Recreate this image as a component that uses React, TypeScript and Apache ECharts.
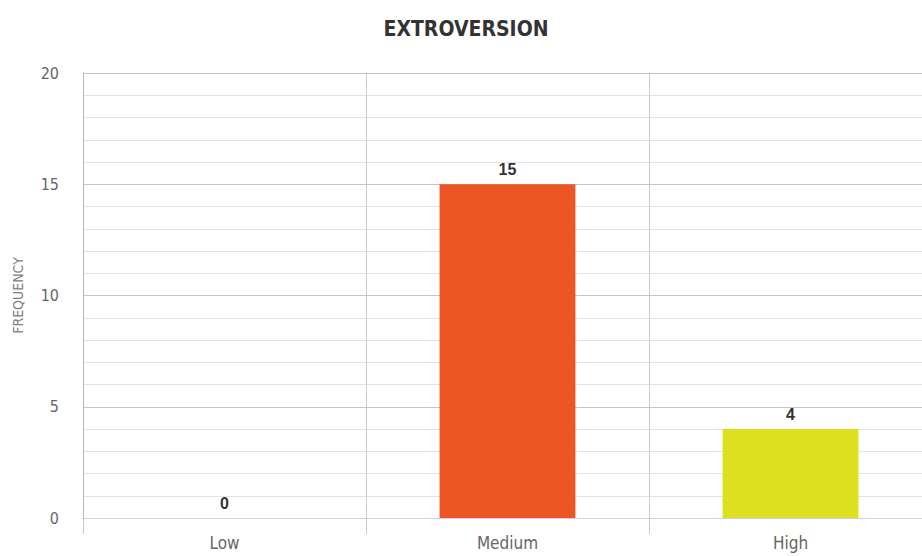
import React, { useEffect, useRef } from "react";
import * as echarts from "echarts";

const categories = ["Low", "Medium", "High"];
const frequencies = [0, 15, 4];
const barColors = ["#4a7fc1", "#ec5524", "#dce01e"];
const chartTitle = "EXTROVERSION";
const yAxisName = "FREQUENCY";

const NARROW = "'DejaVu Sans Condensed', 'Liberation Sans', sans-serif";

export default function App() {
  const ref = useRef<HTMLDivElement>(null);
  useEffect(() => {
    if (!ref.current) return;
    const chart = echarts.init(ref.current, undefined, { renderer: "svg" });
    chart.setOption({
      animation: false,
      backgroundColor: "#ffffff",
      title: {
        text: chartTitle,
        left: "center",
        top: 13,
        textStyle: { fontFamily: NARROW, fontWeight: "bold", fontSize: 21, color: "#333333" },
      },
      grid: { left: 83, right: 0, top: 73, bottom: 38, containLabel: false },
      xAxis: {
        type: "category",
        data: categories,
        boundaryGap: true,
        axisLine: { show: true, lineStyle: { color: "#c3d3e8", width: 1 } },
        axisTick: { show: true, length: 16, lineStyle: { color: "#c8c8c8" } },
        splitLine: { show: true, lineStyle: { color: "#cccccc", width: 1 } },
        axisLabel: { fontFamily: NARROW, fontSize: 17, color: "#666666", margin: 16 },
      },
      yAxis: {
        type: "value",
        min: 0,
        max: 20,
        interval: 5,
        name: yAxisName,
        nameLocation: "middle",
        nameGap: 58,
        nameTextStyle: { fontFamily: NARROW, fontSize: 14, color: "#808080" },
        axisLine: { show: true, lineStyle: { color: "#b8b8b8", width: 1 } },
        axisTick: { show: false },
        axisLabel: { fontFamily: NARROW, fontSize: 16, color: "#666666", margin: 24 },
        splitLine: { show: true, lineStyle: { color: "#c4c4c4", width: 1.2 } },
        minorTick: { show: false, splitNumber: 5 },
        minorSplitLine: { show: true, lineStyle: { color: "#e2e2e2", width: 1.2 } },
      },
      series: [
        {
          type: "bar",
          data: frequencies.map((v, i) => ({ value: v, itemStyle: { color: barColors[i] } })),
          barWidth: "48%",
          label: {
            show: true,
            position: "top",
            distance: 7,
            fontFamily: "'Liberation Sans', Arial, sans-serif",
            fontWeight: "bold",
            fontSize: 16,
            color: "#333333",
          },
        },
      ],
    });
    return () => chart.dispose();
  }, []);
  return (
    <div style={{ width: 922, height: 556, position: "absolute", left: 0, top: 0, overflow: "hidden" }}>
      <div ref={ref} style={{ width: 932, height: 556 }} />
    </div>
  );
}
